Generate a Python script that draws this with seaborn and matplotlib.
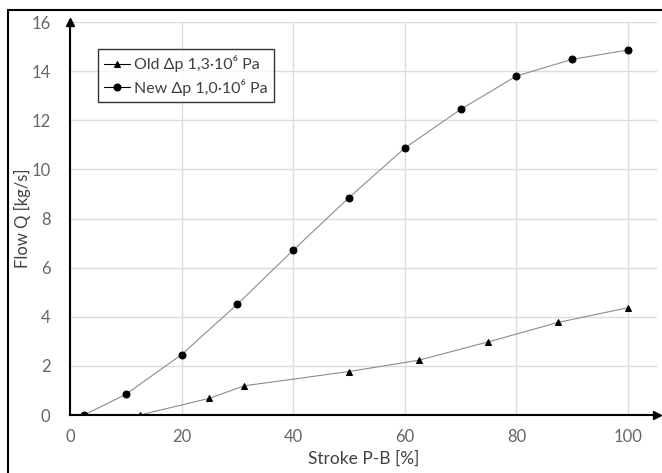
import pandas as pd
import matplotlib.pyplot as plt
from matplotlib.lines import Line2D
import seaborn as sns

# values
old_stroke = [12.5, 25, 31.25, 50, 62.5, 75, 87.5, 100]
old_flow = [0.0, 0.68, 1.19, 1.77, 2.23, 2.98, 3.77, 4.37]
new_stroke = [2.5, 10, 20, 30, 40, 50, 60, 70, 80, 90, 100]
new_flow = [0.0, 0.84, 2.46, 4.51, 6.71, 8.85, 10.87, 12.44, 13.8, 14.48, 14.86]
old_label = 'Old Δp 1,3·10⁶ Pa'
new_label = 'New Δp 1,0·10⁶ Pa'
x_ticks = [0, 20, 40, 60, 80, 100]
y_ticks = [0, 2, 4, 6, 8, 10, 12, 14, 16]

df_old = pd.DataFrame({'stroke': old_stroke, 'flow': old_flow})
df_new = pd.DataFrame({'stroke': new_stroke, 'flow': new_flow})

sns.set_theme(style='whitegrid')
plt.rcParams['font.family'] = ['Lato', 'DejaVu Sans']

fig = plt.figure(figsize=(6.62, 4.73), dpi=100)
ax = fig.add_axes([70 / 662, 1 - 415 / 473, 587 / 662, 393 / 473])

line_kw = dict(color='#8c8c8c', linewidth=0.8, markerfacecolor='black',
               markeredgecolor='black', sort=False, estimator=None)
sns.lineplot(data=df_old, x='stroke', y='flow', marker='^', markersize=5,
             label=old_label, ax=ax, **line_kw)
sns.lineplot(data=df_new, x='stroke', y='flow', marker='o', markersize=5,
             label=new_label, ax=ax, **line_kw)

ax.set_xlim(0, 105.2)
ax.set_ylim(0, 16)
ax.set_xticks(x_ticks)
ax.set_yticks(y_ticks)
ax.grid(True, color='#dcdcdc', linewidth=1)
ax.set_facecolor('white')

for s in ['top', 'right']:
    ax.spines[s].set_visible(False)
for s in ['left', 'bottom']:
    ax.spines[s].set_color('black')
    ax.spines[s].set_linewidth(1.5)

# arrow heads on the axes
ax.plot(1, 0, '>', color='black', markersize=6, transform=ax.transAxes, clip_on=False)
ax.plot(0, 1, '^', color='black', markersize=6, transform=ax.transAxes, clip_on=False)

ax.tick_params(axis='both', length=0, labelsize=12, labelcolor='#666666')
ax.tick_params(axis='x', pad=10)
ax.tick_params(axis='y', pad=14)
ax.set_xlabel('Stroke P-B [%]', fontsize=12.5, color='#404040', labelpad=4)
ax.set_ylabel('Flow Q [kg/s]', fontsize=12, color='#404040')
ax.yaxis.set_label_coords(-0.066, 0.5)

leg = ax.legend(loc='upper left', bbox_to_anchor=(0.047, 0.932), fontsize=11.5,
                frameon=True, fancybox=False, handlelength=1.6, handletextpad=0.3,
                borderpad=0.4, labelspacing=0.4, borderaxespad=0)
leg.get_frame().set_edgecolor('black')
leg.get_frame().set_linewidth(1.0)
for t in leg.get_texts():
    t.set_color('#404040')
for h in leg.legend_handles:
    h.set_color('black')

# outer chart frame (left and top edges visible)
fig.add_artist(Line2D([8 / 662, 8 / 662], [0, 1 - 10 / 473], color='black', linewidth=1.5))
fig.add_artist(Line2D([8 / 662, 1], [1 - 10 / 473, 1 - 10 / 473], color='black', linewidth=1.5))

fig.savefig('out.png', dpi=100, facecolor='white')
